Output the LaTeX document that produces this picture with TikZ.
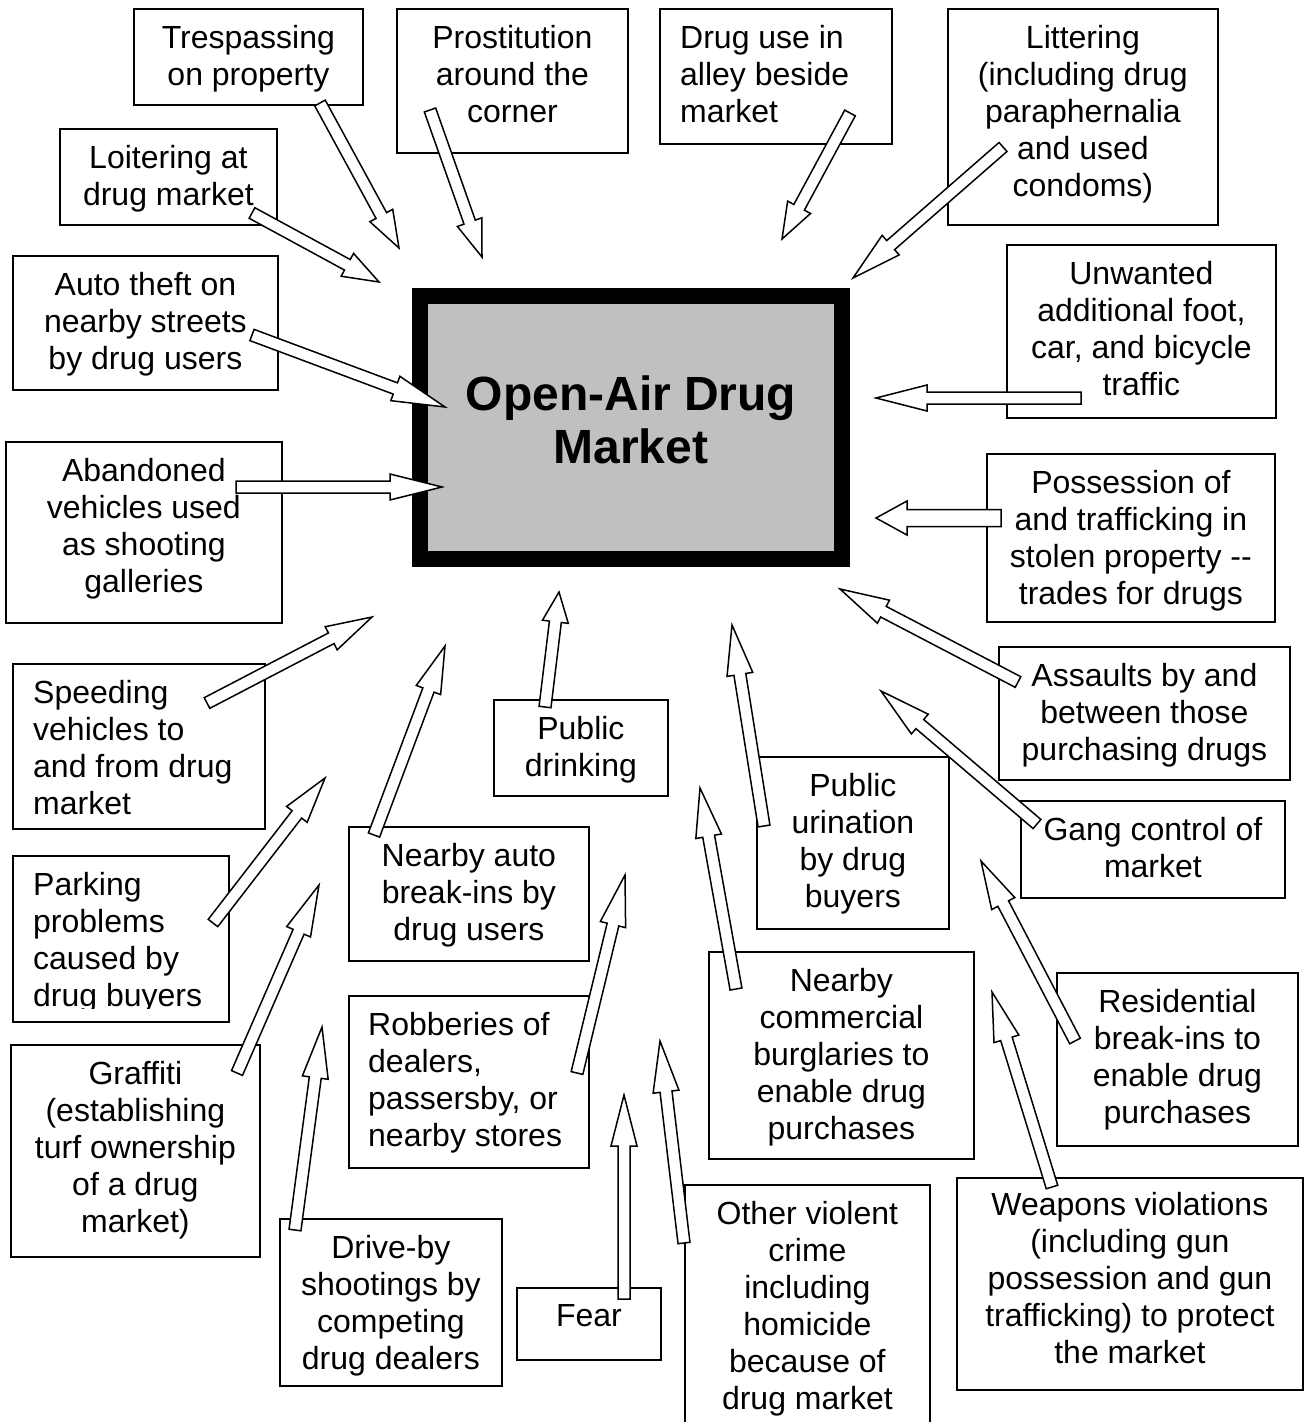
\documentclass[tikz,border=0pt]{standalone}
\usepackage{fontspec}
\setmainfont{Liberation Sans}[Ligatures=NoCommon]
\usetikzlibrary{calc,positioning}

\definecolor{marketgray}{RGB}{192,192,192}
\newcommand{\issuefont}{\fontsize{32}{37}\selectfont}
\newcommand{\titlefont}{\fontsize{48}{53}\selectfont\bfseries}
\newcommand{\shaftw}{6pt}
\newcommand{\headw}{13pt}

% hollow block arrow from (#2) to (#3), head length #1
\newcommand{\hollowarrow}[3][50]{%
  \draw[blockarrow] let \p1=($(#3)-(#2)$), \n1={atan2(\y1,\x1)}, \n2={veclen(\x1,\y1)} in
    ($(#2)+(\n1-90:\shaftw)$) -- ++(\n1:\n2-#1pt) -- ++(\n1-90:\headw-\shaftw) -- (#3)
    -- ($(#3)+(\n1+180:#1pt)+(\n1+90:\headw)$) -- ++(\n1-90:\headw-\shaftw)
    -- ($(#2)+(\n1+90:\shaftw)$) -- cycle;
}

\begin{document}
\begin{tikzpicture}[x=1pt,y=-1pt,node distance=17.5pt]
    \tikzstyle{issue}=[draw=black,line width=1.8pt,anchor=north west,inner sep=0pt]
    \tikzstyle{issuetext}=[inner sep=0pt,align=center,font=\issuefont]
    \tikzstyle{lefttext}=[inner sep=0pt,align=left,font=\issuefont]
    \tikzstyle{market}=[draw=black,line width=16pt,fill=marketgray,inner sep=0pt]
    \tikzstyle{title}=[inner sep=0pt,align=center,font=\titlefont]
    \tikzstyle{blockarrow}=[draw=black,fill=white,line width=1.5pt,line join=miter]
    \useasboundingbox (0,0) rectangle (1306,1422);

    % the boxes
    \foreach \name/\x/\y/\w/\h in {trespass/133/8/229/96, prostitution/396/8/231/144,
            druguse/659/8/232/135, littering/947/8/270/216, loitering/59/128/217/96,
            autotheft/12/255/265/134, traffic/1006/244/269/173, abandoned/5/441/276/181,
            possession/986/453/288/168, speeding/12/663/252/165, drinking/493/699/174/96,
            assaults/998/646/291/133, urination/756/756/192/172, parking/12/855/216/166,
            autobreakin/348/826/240/134, gang/1020/800/264/97, robberies/348/995/240/172,
            commercial/708/951/265/207, residential/1056/972/241/173, graffiti/10/1044/249/212,
            driveby/279/1218/222/167, fear/516/1287/144/72, violent/684/1184/245/280,
            weapons/956/1177/346/212}
        \node[issue,minimum width=\w pt,minimum height=\h pt] (\name) at (\x,\y) {};

    \node[market,minimum width=422pt,minimum height=263pt] (market) at (631,427.5) {};
    \node[title,below=88pt of market.north] (market-title) {Open-Air Drug\\Market};

    % the texts
    \node[issuetext,below=of trespass.north] (trespass-text) {Trespassing\\on property};
    \node[issuetext,below=of prostitution.north] (prostitution-text) {Prostitution\\around the\\corner};
    \node[lefttext,below right=17.5pt and 21pt of druguse.north west] (druguse-text) {Drug use in\\alley beside\\market};
    \node[issuetext,below=of littering.north] (littering-text) {Littering\\(including drug\\paraphernalia\\and used\\condoms)};
    \node[issuetext,below=of loitering.north] (loitering-text) {Loitering at\\drug market};
    \node[issuetext,below=of autotheft.north] (autotheft-text) {Auto theft on\\nearby streets\\by drug users};
    \node[issuetext,below=of traffic.north] (traffic-text) {Unwanted\\additional foot,\\car, and bicycle\\traffic};
    \node[issuetext,below=of abandoned.north] (abandoned-text) {Abandoned\\vehicles used\\as shooting\\galleries};
    \node[issuetext,below=of possession.north] (possession-text) {Possession of\\and trafficking in\\stolen property \mbox{-}\mbox{-}\\trades for drugs};
    \node[lefttext,below right=17.5pt and 21pt of speeding.north west] (speeding-text) {Speeding\\vehicles to\\and from drug\\market};
    \node[issuetext,below=of drinking.north] (drinking-text) {Public\\drinking};
    \node[issuetext,below=of assaults.north] (assaults-text) {Assaults by and\\between those\\purchasing drugs};
    \node[issuetext,below=of urination.north] (urination-text) {Public\\urination\\by drug\\buyers};
    \begin{scope}
        \clip (parking.north west) rectangle ([yshift=14pt]parking.south east);
        \node[lefttext,below right=17.5pt and 21pt of parking.north west] (parking-text) {Parking\\problems\\caused by\\drug buyers};
    \end{scope}
    \node[issuetext,below=of autobreakin.north] (autobreakin-text) {Nearby auto\\break-ins by\\drug users};
    \node[issuetext,below=of gang.north] (gang-text) {Gang control of\\market};
    \node[lefttext,below right=17.5pt and 20pt of robberies.north west] (robberies-text) {Robberies of\\dealers,\\passersby, or\\nearby stores};
    \node[issuetext,below=of commercial.north] (commercial-text) {Nearby\\commercial\\burglaries to\\enable drug\\purchases};
    \node[issuetext,below=of residential.north] (residential-text) {Residential\\break-ins to\\enable drug\\purchases};
    \node[issuetext,below=of graffiti.north] (graffiti-text) {Graffiti\\(establishing\\turf ownership\\of a drug\\market)};
    \node[issuetext,below=of driveby.north] (driveby-text) {Drive-by\\shootings by\\competing\\drug dealers};
    \node[issuetext,below=of fear.north] (fear-text) {Fear};
    \node[issuetext,below=of violent.north] (violent-text) {Other violent\\crime\\including\\homicide\\because of\\drug market};
    \node[issuetext,below=15.5pt of weapons.north] (weapons-text) {Weapons violations\\(including gun\\possession and gun\\trafficking) to protect\\the market};

    % the arrows into the market
    \foreach \name/\tx/\ty/\hx/\hy/\len in {trespass/320/103/399/248/37, prostitution/430/110/482/257/37,
            druguse/850/113/782/239/36, littering/1003/147/853/278/50, loitering/252/213/379/282/36,
            autotheft/252/335/445/407/53, traffic/1081/398/876/398/51, abandoned/236/487/442/487/52,
            speeding/207/703/372/617/46, drinking/545/707/559/592/30, assaults/1018/682/840/589/49,
            urination/764/826/732/625/50, parking/213/923/325/778/46, autobreakin/374/835/445/646/47,
            gang/1037/824/881/691/51, robberies/577/1073/625/875/51, commercial/736/989/700/788/49,
            residential/1075/1041/981/861/48, graffiti/237/1073/319/885/51, driveby/295/1230/322/1027/51,
            fear/624/1299/624/1095/51, violent/684/1243/660/1041/51, weapons/1052/1187/992/992/49}
    {
        \coordinate (\name-tail) at (\tx,\ty);
        \coordinate (\name-tip) at (\hx,\hy);
        \hollowarrow[\len]{\name-tail}{\name-tip}
    }

    \begin{scope}
        \renewcommand{\shaftw}{8.5pt}
        \renewcommand{\headw}{17pt}
        \coordinate (possession-tail) at (1001,518);
        \coordinate (possession-tip) at (876,518);
        \hollowarrow[31]{possession-tail}{possession-tip}
    \end{scope}
\end{tikzpicture}
\end{document}
